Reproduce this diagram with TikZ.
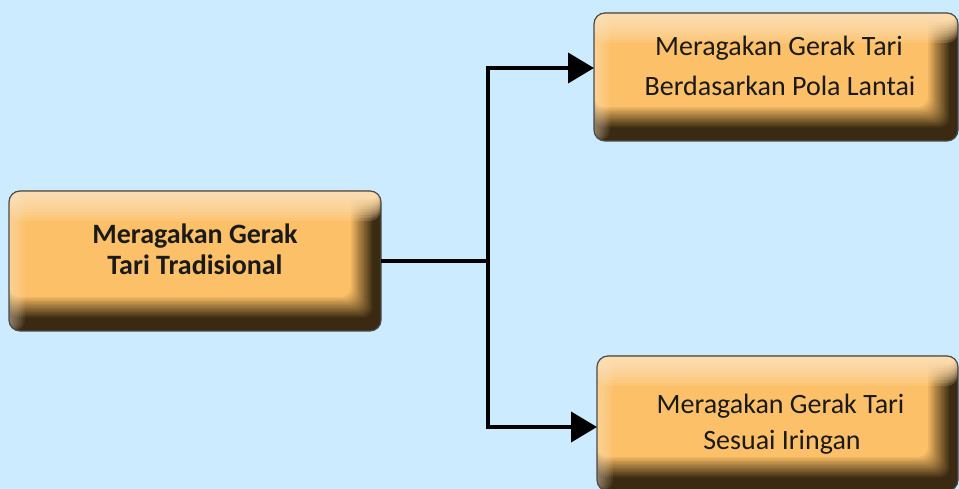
\documentclass[tikz,border=0pt]{standalone}
\usepackage{fontspec}
\setmainfont{Carlito}
\usetikzlibrary{arrows.meta,calc}
\definecolor{bgblue}{HTML}{CDEBFE}
\definecolor{boxorange}{HTML}{FBC068}
\definecolor{boxcream}{HTML}{FFEBCF}
\definecolor{boxdark}{HTML}{3A2A12}
\definecolor{boxedge}{HTML}{4A4A4A}
\definecolor{txt}{HTML}{1A1A1A}
\tikzset{
  bevelbox/.style={rectangle, rounded corners=11pt, inner sep=0pt, outer sep=0pt,
    fill=boxdark, draw=boxedge, line width=1.2pt,
    path picture={
      \path (path picture bounding box.south west) coordinate (pp1)
            (path picture bounding box.north east) coordinate (pp2);
      \foreach \k in {1,...,16}{
        \fill[boxorange, opacity={1/(17-\k)}, rounded corners=10pt]
          ($(pp1)+(0,{12+22*\k/16})$) rectangle ($(pp2)+({-7-23*\k/16},0)$);
      }
      \foreach \k in {1,...,12}{
        \fill[boxorange, opacity={1/(13-\k)}]
          ($(pp1|-pp2)+(0,{-8-24*(1-\k/12)})$) rectangle (pp2);
      }
      \foreach \i in {0,...,9}{
        \fill[boxcream, opacity=0.12]
          ($(pp1|-pp2)+(0,{-30*(1-\i/10)})$) rectangle (pp2);
      }
      \foreach \i in {0,...,7}{
        \fill[boxcream, opacity=0.07]
          (pp1) rectangle ($(pp1|-pp2)+({16*(1-\i/8)},0)$);
      }
    }},
  lbl/.style={font=\fontsize{28}{31}\selectfont, text=txt, inner sep=0pt, anchor=base},
  conn/.style={line width=4pt, draw=black},
  tip/.style={-{Triangle[length=26pt,width=30pt]}}
}
\begin{document}
\begin{tikzpicture}[x=1pt,y=1pt]
\fill[bgblue] (0,0) rectangle (959,489);
\useasboundingbox (0,0) rectangle (959,489);
\clip (0,0) rectangle (959,489);

\node[bevelbox, minimum width=372pt, minimum height=140pt] (L) at (195,228) {};
\node[bevelbox, minimum width=364pt, minimum height=128pt] (T) at (776,412) {};
\node[bevelbox, minimum width=361pt, minimum height=135pt] (B) at (777.5,65.5) {};

\node[lbl, font=\fontsize{28}{31}\selectfont\bfseries] (L1) at (195,245) {Meragakan Gerak};
\node[lbl, font=\fontsize{28}{31}\selectfont\bfseries] (L2) at (195,214) {Tari Tradisional};
\node[lbl] (T1) at (779,433) {Meragakan Gerak Tari};
\node[lbl] (T2) at (780,393) {Berdasarkan Pola Lantai};
\node[lbl] (B1) at (780.5,75) {Meragakan Gerak Tari};
\node[lbl] (B2) at (782,39) {Sesuai Iringan};

\coordinate (J) at (488,228);
\coordinate (Tin) at ($(T.west)+(0,9)$);
\coordinate (Bin) at ($(B.west)+(0,-3.5)$);
\draw[conn] (L.east) -- (J);
\draw[conn, tip] (J) |- (Tin);
\draw[conn, tip] (J) |- (Bin);
\end{tikzpicture}
\end{document}
